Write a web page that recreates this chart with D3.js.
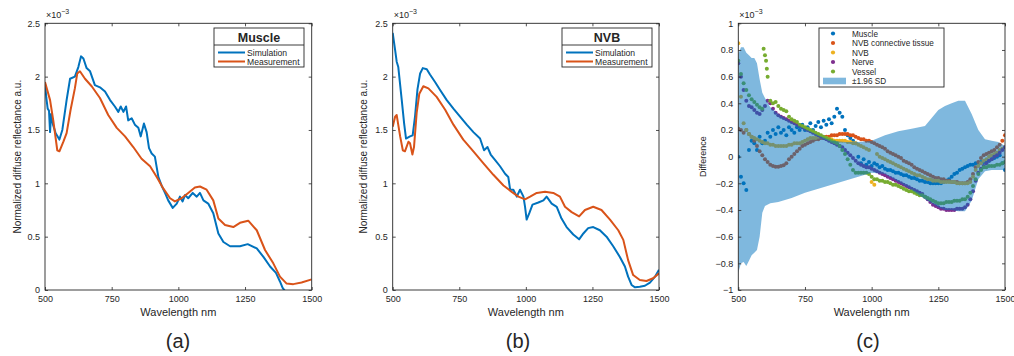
<!DOCTYPE html>
<html><head><meta charset="utf-8">
<script src="https://cdn.jsdelivr.net/npm/d3@7"></script>
<style>
body{margin:0;background:#fff}
svg{display:block}
text{font-family:"Liberation Sans",Arial,Helvetica,sans-serif;fill:#262626}
</style>
</head><body>
<svg id="chart" width="1014" height="356"></svg>
<script>
// ---------- DATA ----------
const xTicks = [500, 750, 1000, 1250, 1500];
const yTicksAB = [0, 0.5, 1, 1.5, 2, 2.5];
const yTicksC = [-1, -0.8, -0.6, -0.4, -0.2, 0, 0.2, 0.4, 0.6, 0.8, 1];

// Panel (a) Muscle (x10^-3)
const aSimWl  = [500,505,510,515,519,523,530,540,554,565,581,594,612,625,635,644,656,669,687,706,725,744,762,775,784,794,804,812,825,837,850,859,871,881,890,900,912,925,937,950,962,979,994,1006,1016,1025,1037,1054,1069,1081,1094,1112,1131,1150,1169,1194,1231,1260,1294,1319,1344,1366,1381,1391,1400,1410];
const aSimVal = [1.94,1.8,1.7,1.68,1.48,1.65,1.55,1.47,1.41,1.5,1.78,1.98,2.0,2.09,2.19,2.17,2.08,2.05,1.92,1.9,1.86,1.78,1.72,1.67,1.72,1.67,1.72,1.59,1.61,1.55,1.52,1.44,1.56,1.48,1.33,1.28,1.25,1.06,0.98,0.91,0.84,0.77,0.81,0.875,0.83,0.89,0.86,0.91,0.875,0.91,0.84,0.81,0.72,0.53,0.45,0.41,0.41,0.43,0.39,0.31,0.22,0.16,0.08,0.02,-0.01,-0.03];
const aMeasWl  = [500,519,531,546,554,569,581,596,612,621,631,650,675,706,737,769,800,831,862,894,919,944,969,987,1012,1037,1062,1081,1106,1131,1150,1175,1206,1231,1262,1294,1325,1356,1381,1406,1431,1462,1500];
const aMeasVal = [1.95,1.78,1.59,1.31,1.30,1.39,1.47,1.69,1.89,2.03,2.05,1.98,1.91,1.80,1.64,1.52,1.44,1.34,1.23,1.16,1.06,0.95,0.86,0.83,0.86,0.91,0.96,0.97,0.94,0.84,0.67,0.61,0.59,0.63,0.65,0.56,0.375,0.25,0.125,0.06,0.055,0.07,0.10];

// Panel (b) NVB (x10^-3)
const bSimWl  = [500,509,515,521,534,543,550,565,575,584,593,603,613,628,640,659,678,703,728,753,778,803,828,843,856,868,884,903,922,934,941,953,966,978,991,997,1003,1013,1025,1047,1066,1078,1097,1116,1134,1153,1178,1200,1216,1234,1253,1278,1303,1328,1353,1372,1384,1397,1410,1428,1447,1466,1485,1500];
const bSimVal = [2.41,2.25,2.14,2.09,1.78,1.56,1.42,1.44,1.45,1.63,1.88,2.03,2.08,2.07,2.02,1.95,1.875,1.78,1.70,1.625,1.55,1.48,1.42,1.31,1.34,1.27,1.22,1.16,1.09,1.06,0.94,0.94,0.875,0.94,0.875,0.78,0.66,0.72,0.80,0.82,0.84,0.875,0.81,0.78,0.67,0.59,0.52,0.475,0.53,0.58,0.59,0.56,0.50,0.41,0.31,0.22,0.125,0.047,0.025,0.03,0.04,0.07,0.125,0.19];
const bMeasWl  = [500,509,515,528,538,546,559,565,574,580,590,600,615,634,665,697,728,765,803,840,878,916,947,972,997,1016,1041,1072,1103,1128,1147,1172,1200,1222,1253,1284,1316,1347,1366,1384,1403,1428,1453,1478,1500];
const bMeasVal = [1.53,1.625,1.64,1.44,1.31,1.30,1.39,1.375,1.27,1.34,1.66,1.84,1.91,1.89,1.81,1.69,1.55,1.41,1.30,1.19,1.08,0.98,0.92,0.875,0.85,0.875,0.91,0.92,0.91,0.875,0.78,0.73,0.69,0.75,0.78,0.75,0.66,0.56,0.47,0.28,0.14,0.094,0.084,0.11,0.156];

// Panel (c) differences (x10^-3), sampled every 10 nm from 500 to 1500
const cWl = d3.range(500, 1501, 10);
const muscleDiff = [0.00,-0.15,-0.20,-0.25,0.05,0.12,0.10,0.05,0.15,0.10,
 0.12,0.18,0.15,0.20,0.17,0.22,0.18,0.20,0.16,0.22,
 0.20,0.18,0.22,0.20,0.24,0.20,0.22,0.25,0.20,0.23,
 0.26,0.22,0.27,0.24,0.28,0.25,0.30,0.36,0.33,0.30,
 0.20,0.16,0.14,0.12,0.10,0.00,-0.05,-0.02,-0.06,-0.04,
 -0.07,-0.05,-0.06,-0.08,-0.07,-0.09,-0.10,-0.10,-0.11,-0.12,
 -0.12,-0.13,-0.14,-0.14,-0.15,-0.16,-0.16,-0.17,-0.18,-0.18,
 -0.19,-0.19,-0.20,-0.20,-0.20,-0.20,-0.20,-0.19,-0.18,-0.17,
 -0.15,-0.13,-0.12,-0.10,-0.09,-0.08,-0.07,-0.06,-0.06,-0.05,
 -0.05,-0.04,-0.04,-0.03,-0.03,-0.02,-0.01,0.00,0.01,-0.05,
 -0.10];
const nvbCtDiff = [0.21,0.20,0.18,0.20,0.17,0.15,0.12,0.08,0.04,0.01,
 -0.02,-0.04,-0.06,-0.07,-0.075,-0.075,-0.07,-0.065,-0.05,-0.02,
 0.00,0.02,0.04,0.06,0.08,0.09,0.10,0.11,0.12,0.13,
 0.13,0.14,0.14,0.15,0.15,0.16,0.16,0.16,0.17,0.17,
 0.17,0.17,0.16,0.16,0.15,0.14,0.13,0.13,0.12,0.12,
 0.11,0.10,0.09,0.08,0.07,0.06,0.04,0.03,0.02,0.01,
 0.00,-0.01,-0.03,-0.04,-0.05,-0.06,-0.08,-0.09,-0.10,-0.11,
 -0.12,-0.13,-0.14,-0.15,-0.16,-0.16,-0.17,-0.17,-0.18,-0.18,
 -0.19,-0.19,-0.19,-0.20,-0.20,-0.20,-0.19,-0.17,-0.13,-0.08,
 -0.04,-0.01,0.01,0.02,0.03,0.04,0.05,0.07,0.09,0.12,
 0.16];
const nvbDiff = [0.85,0.45,0.25,0.20,0.17,0.15,0.14,0.13,0.12,0.11,
 0.10,0.10,0.09,0.09,0.08,0.08,0.08,0.08,0.08,0.09,
 0.09,0.10,0.10,0.10,0.11,0.12,0.13,0.14,0.14,0.14,
 0.15,0.15,0.14,0.14,0.13,0.13,0.12,0.12,0.12,0.12,
 0.12,0.11,0.11,0.10,0.10,0.09,0.08,0.07,0.06,0.05,
 -0.19,-0.21,0.02,0.00,-0.01,-0.02,-0.03,-0.04,-0.05,-0.06,
 -0.07,-0.08,-0.09,-0.10,-0.11,-0.12,-0.13,-0.14,-0.14,-0.15,
 -0.16,-0.17,-0.17,-0.18,-0.18,-0.18,-0.19,-0.19,-0.19,-0.19,
 -0.19,-0.19,-0.20,-0.20,-0.20,-0.20,-0.20,-0.19,-0.15,-0.10,
 -0.07,-0.05,-0.03,-0.02,0.00,0.01,0.02,0.03,0.05,0.06,
 0.07];
const nerveDiff = [0.70,0.60,0.50,0.42,0.38,0.37,0.35,0.33,0.32,0.35,
 0.38,0.42,0.40,0.36,0.33,0.31,0.30,0.29,0.28,0.27,
 0.26,0.25,0.24,0.23,0.22,0.21,0.20,0.19,0.18,0.17,
 0.16,0.15,0.14,0.13,0.12,0.11,0.10,0.09,0.08,0.07,
 0.05,0.03,0.01,-0.01,-0.03,-0.05,-0.06,-0.07,-0.08,-0.08,
 -0.09,-0.10,-0.11,-0.12,-0.13,-0.14,-0.15,-0.16,-0.17,-0.18,
 -0.19,-0.20,-0.21,-0.22,-0.23,-0.24,-0.25,-0.26,-0.27,-0.28,
 -0.30,-0.32,-0.34,-0.36,-0.37,-0.38,-0.39,-0.39,-0.40,-0.40,
 -0.40,-0.40,-0.39,-0.39,-0.39,-0.38,-0.36,-0.32,-0.26,-0.18,
 -0.12,-0.09,-0.07,-0.05,-0.03,-0.02,0.00,0.01,0.03,0.05,
 0.07];
const vesselDiff = [0.72,0.62,0.55,0.50,0.46,0.43,0.41,0.39,0.37,0.36,
 0.76,0.60,0.42,0.40,0.41,0.38,0.36,0.35,0.34,0.30,
 0.28,0.27,0.26,0.24,0.23,0.22,0.21,0.20,0.19,0.18,
 0.17,0.16,0.15,0.14,0.13,0.12,0.11,0.10,0.08,0.05,
 0.02,-0.02,-0.06,-0.10,-0.12,-0.12,-0.12,-0.12,-0.12,-0.13,
 -0.15,-0.17,-0.17,-0.18,-0.18,-0.19,-0.19,-0.20,-0.21,-0.21,
 -0.22,-0.23,-0.24,-0.25,-0.26,-0.26,-0.27,-0.28,-0.29,-0.29,
 -0.30,-0.31,-0.32,-0.33,-0.34,-0.35,-0.35,-0.35,-0.34,-0.34,
 -0.34,-0.33,-0.33,-0.33,-0.32,-0.32,-0.30,-0.27,-0.22,-0.17,
 -0.13,-0.10,-0.08,-0.08,-0.07,-0.07,-0.07,-0.06,-0.06,-0.05,
 -0.04];
const vesselPeakWl  = [595, 604, 607];
const vesselPeakVal = [0.81, 0.72, 0.66];

// ±1.96 SD band
const bandWl = [500,510,520,530,540,550,560,570,580,590,600,620,650,700,750,800,850,900,950,1000,1050,1100,1150,1200,1225,1250,1275,1300,1325,1350,1375,1400,1425,1450,1475,1500];
const bandUp = [0.77,0.82,0.82,0.78,0.76,0.74,0.74,0.70,0.58,0.48,0.44,0.37,0.32,0.26,0.21,0.16,0.12,0.11,0.11,0.12,0.16,0.19,0.21,0.23,0.29,0.35,0.38,0.40,0.42,0.42,0.32,0.20,0.13,0.12,0.11,0.08];
const bandLo = [-0.87,-0.80,-0.79,-0.82,-0.78,-0.74,-0.72,-0.70,-0.60,-0.42,-0.37,-0.35,-0.34,-0.31,-0.27,-0.24,-0.21,-0.18,-0.15,-0.12,-0.13,-0.19,-0.25,-0.32,-0.35,-0.38,-0.40,-0.40,-0.41,-0.41,-0.33,-0.17,-0.11,-0.10,-0.10,-0.10];

const seriesNames  = ["Muscle", "NVB connective tissue", "NVB", "Nerve", "Vessel"];
const seriesColors = ["#0072BD", "#D95319", "#EDB120", "#7E2F8E", "#77AC30"];
const lineNames = ["Simulation", "Measurement"];
const lineColors = ["#0072BD", "#D95319"];

// ---------- DRAW ----------
const svg = d3.select("#chart");
const T = 23.3, B = 290;
const AX = "#262626";

function makePanel(id, left, right, yDomain, yTicks) {
  const x = d3.scaleLinear().domain([500, 1500]).range([left, right]);
  const y = d3.scaleLinear().domain(yDomain).range([B, T]);
  svg.append("clipPath").attr("id", "clip" + id)
    .append("rect").attr("x", left).attr("y", T).attr("width", right - left).attr("height", B - T);
  const plot = svg.append("g").attr("clip-path", `url(#clip${id})`);
  const axes = svg.append("g");
  const fmt = d3.format("~g");
  axes.append("g").attr("transform", `translate(0,${B})`)
    .call(d3.axisBottom(x).tickValues(xTicks).tickSize(-3).tickPadding(6).tickFormat(d3.format("d")));
  axes.append("g").attr("transform", `translate(0,${T})`)
    .call(d3.axisTop(x).tickValues(xTicks).tickSize(-3).tickFormat(""));
  axes.append("g").attr("transform", `translate(${left},0)`)
    .call(d3.axisLeft(y).tickValues(yTicks).tickSize(-3).tickPadding(5).tickFormat(fmt));
  axes.append("g").attr("transform", `translate(${right},0)`)
    .call(d3.axisRight(y).tickValues(yTicks).tickSize(-3).tickFormat(""));
  axes.selectAll(".domain").remove();
  axes.selectAll(".tick line").attr("stroke", AX).attr("stroke-width", 0.8);
  axes.selectAll(".tick text").attr("font-size", 9);
  axes.append("rect").attr("x", left).attr("y", T).attr("width", right - left).attr("height", B - T)
    .attr("fill", "none").attr("stroke", AX).attr("stroke-width", 0.9);
  // exponent label
  const ex = axes.append("text").attr("x", left + 1).attr("y", 18).attr("font-size", 9);
  ex.append("tspan").text("\u00d710");
  ex.append("tspan").attr("dy", -4).attr("font-size", 7).text("\u22123");
  // x label
  axes.append("text").attr("x", (left + right) / 2).attr("y", 316).attr("text-anchor", "middle")
    .attr("font-size", 11).text("Wavelength nm");
  return { x, y, plot, axes, left, right };
}

function drawLines(p, sim, meas) {
  [sim, meas].forEach((s, i) => {
    const pts = s[0].map((w, k) => [w, s[1][k]]);
    p.plot.append("path").datum(pts)
      .attr("d", d3.line().x(d => p.x(d[0])).y(d => p.y(d[1])))
      .attr("fill", "none").attr("stroke", lineColors[i]).attr("stroke-width", 2)
      .attr("stroke-linejoin", "round");
  });
}

function lineLegend(x0, x1, title) {
  const g = svg.append("g");
  g.append("rect").attr("x", x0).attr("y", 28).attr("width", x1 - x0).attr("height", 39)
    .attr("fill", "#fff").attr("stroke", AX).attr("stroke-width", 0.9);
  g.append("line").attr("x1", x0).attr("x2", x1).attr("y1", 45).attr("y2", 45).attr("stroke", AX).attr("stroke-width", 0.9);
  g.append("text").attr("x", (x0 + x1) / 2).attr("y", 41.5).attr("text-anchor", "middle")
    .attr("font-size", 12.5).attr("font-weight", "bold").text(title);
  lineNames.forEach((n, i) => {
    const yy = 52.5 + i * 9;
    g.append("line").attr("x1", x0 + 4).attr("x2", x0 + 31).attr("y1", yy).attr("y2", yy)
      .attr("stroke", lineColors[i]).attr("stroke-width", 2);
    g.append("text").attr("x", x0 + 33).attr("y", yy + 3).attr("font-size", 8.6).text(n);
  });
}

// Panel a
const pa = makePanel("a", 45, 311.7, [0, 2.5], yTicksAB);
drawLines(pa, [aSimWl, aSimVal], [aMeasWl, aMeasVal]);
pa.axes.append("text").attr("transform", "translate(20.5,156.7) rotate(-90)").attr("text-anchor", "middle")
  .attr("font-size", 10).text("Normalized diffuse reflectance a.u.");
lineLegend(214, 304, "Muscle");
svg.append("text").attr("x", 178).attr("y", 348).attr("text-anchor", "middle").attr("font-size", 20).text("(a)");

// Panel b
const pb = makePanel("b", 392.7, 659, [0, 2.5], yTicksAB);
drawLines(pb, [bSimWl, bSimVal], [bMeasWl, bMeasVal]);
pb.axes.append("text").attr("transform", "translate(366.5,156.7) rotate(-90)").attr("text-anchor", "middle")
  .attr("font-size", 10).text("Normalized diffuse reflectance a.u.");
lineLegend(562, 652, "NVB");
svg.append("text").attr("x", 518).attr("y", 348).attr("text-anchor", "middle").attr("font-size", 20).text("(b)");

// Panel c
const pc = makePanel("c", 738.3, 1005, [-1, 1], yTicksC);
const allSeries = [muscleDiff, nvbCtDiff, nvbDiff, nerveDiff, vesselDiff];
allSeries.forEach((vals, i) => {
  let pts = cWl.map((w, k) => [w, vals[k]]);
  if (i === 4) pts = pts.concat(vesselPeakWl.map((w, k) => [w, vesselPeakVal[k]]));
  pc.plot.append("g").selectAll("circle").data(pts).join("circle")
    .attr("cx", d => pc.x(d[0])).attr("cy", d => pc.y(d[1])).attr("r", 2)
    .attr("fill", seriesColors[i]);
});
const band = bandWl.map((w, k) => [w, bandLo[k], bandUp[k]]);
pc.plot.append("path").datum(band)
  .attr("d", d3.area().x(d => pc.x(d[0])).y0(d => pc.y(d[1])).y1(d => pc.y(d[2])))
  .attr("fill", "#0072BD").attr("fill-opacity", 0.5);
pc.axes.append("text").attr("transform", "translate(706,156.7) rotate(-90)").attr("text-anchor", "middle")
  .attr("font-size", 9).text("Difference");
// legend c
(function () {
  const g = svg.append("g");
  const x0 = 819, x1 = 944;
  g.append("rect").attr("x", x0).attr("y", 28).attr("width", x1 - x0).attr("height", 59)
    .attr("fill", "#fff").attr("stroke", AX).attr("stroke-width", 0.9);
  seriesNames.forEach((n, i) => {
    const yy = 33.5 + i * 9.5;
    g.append("circle").attr("cx", 833).attr("cy", yy).attr("r", 2.1).attr("fill", seriesColors[i]);
    g.append("text").attr("x", 852).attr("y", yy + 3).attr("font-size", 8.2).text(n);
  });
  const yy = 33.5 + 5 * 9.5;
  g.append("rect").attr("x", 823).attr("y", yy - 3.3).attr("width", 23).attr("height", 6.6)
    .attr("fill", "#0072BD").attr("fill-opacity", 0.5);
  g.append("text").attr("x", 852).attr("y", yy + 3).attr("font-size", 8.2).text("\u00b11.96 SD");
})();
svg.append("text").attr("x", 868).attr("y", 348).attr("text-anchor", "middle").attr("font-size", 20).text("(c)");
</script>
</body></html>
